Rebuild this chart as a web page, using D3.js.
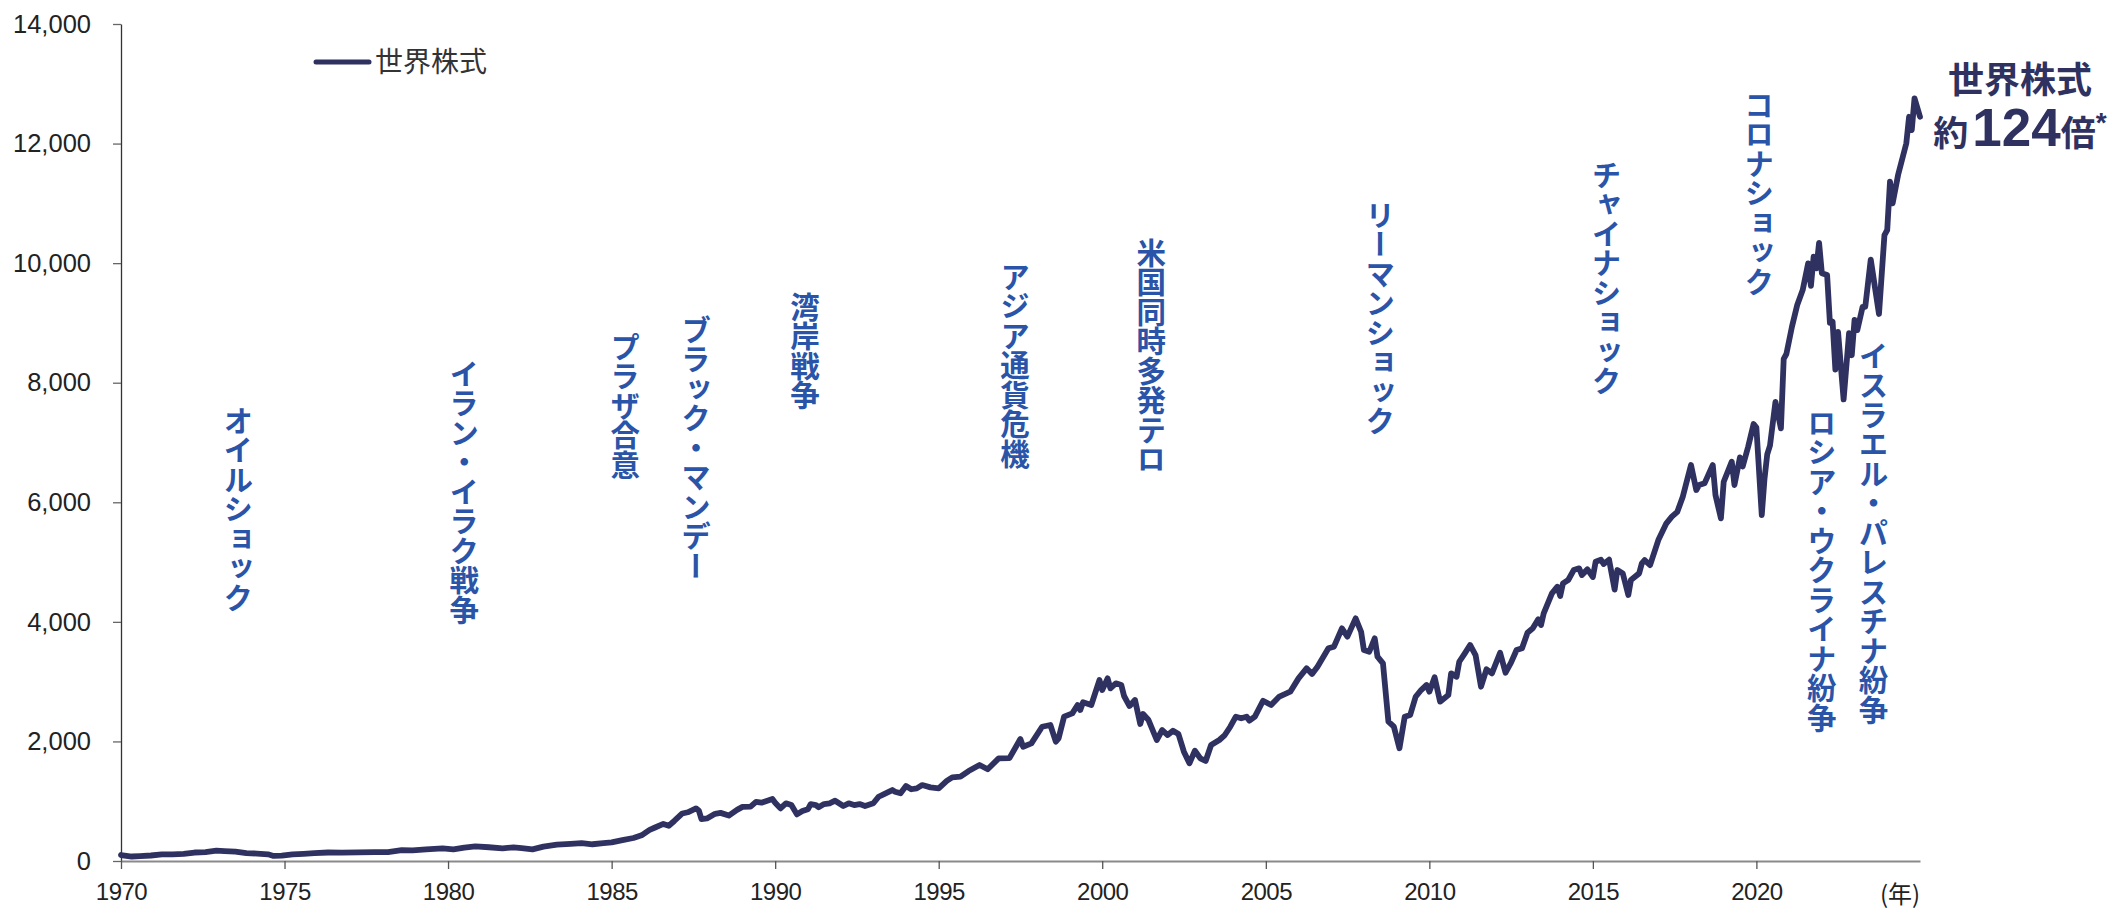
<!DOCTYPE html>
<html><head><meta charset="utf-8">
<script src="https://cdn.jsdelivr.net/npm/d3@7"></script>
<style>body{margin:0;background:#fff}svg{display:block}</style>
</head><body>
<svg id="chart" width="2112" height="910"></svg>
<script>
// ---- data ----
const seriesName = "世界株式";
const months = [
"1970-01","1970-05","1970-08","1970-12","1971-04","1971-08","1971-12","1972-04","1972-08","1972-12",
"1973-03","1973-07","1973-11","1974-03","1974-07","1974-09","1974-12","1975-04","1975-08","1975-12",
"1976-05","1976-10","1977-04","1977-10","1978-03","1978-08","1978-12","1979-05","1979-11","1980-03",
"1980-07","1980-11","1981-04","1981-09","1982-01","1982-04","1982-08","1982-12","1983-05","1983-10",
"1984-02","1984-06","1984-10","1985-01","1985-05","1985-09","1985-12","1986-03","1986-05","1986-08",
"1986-10","1986-12","1987-03","1987-05","1987-08","1987-09","1987-10","1987-12","1988-03","1988-05",
"1988-08","1988-11","1989-01","1989-04","1989-06","1989-08","1989-12","1990-01","1990-03","1990-05",
"1990-07","1990-09","1990-11","1991-01","1991-02","1991-04","1991-05","1991-07","1991-09","1991-11",
"1992-02","1992-04","1992-06","1992-08","1992-10","1993-01","1993-03","1993-05","1993-08","1993-09",
"1993-11","1994-01","1994-03","1994-05","1994-07","1994-10","1995-01","1995-04","1995-06","1995-09",
"1995-12","1996-04","1996-07","1996-11","1997-03","1997-07","1997-08","1997-11","1998-03","1998-06",
"1998-08","1998-09","1998-11","1999-02","1999-04","1999-05","1999-06","1999-09","1999-12","2000-01",
"2000-03","2000-04","2000-06","2000-08","2000-09","2000-11","2001-01","2001-03","2001-04","2001-06",
"2001-09","2001-11","2002-01","2002-03","2002-05","2002-07","2002-09","2002-11","2003-01","2003-03",
"2003-05","2003-08","2003-10","2003-12","2004-02","2004-04","2004-06","2004-07","2004-09","2004-12",
"2005-03","2005-06","2005-10","2006-01","2006-04","2006-06","2006-08","2006-12","2007-02","2007-05",
"2007-07","2007-10","2007-12","2008-01","2008-03","2008-05","2008-06","2008-08","2008-10","2008-12",
"2009-02","2009-04","2009-06","2009-08","2009-10","2009-12","2010-01","2010-03","2010-05","2010-08",
"2010-09","2010-11","2010-12","2011-02","2011-04","2011-06","2011-08","2011-10","2011-12","2012-03",
"2012-05","2012-07","2012-09","2012-11","2013-01","2013-03","2013-05","2013-06","2013-07","2013-10",
"2013-12","2014-01","2014-02","2014-04","2014-06","2014-08","2014-09","2014-11","2015-01","2015-02",
"2015-04","2015-05","2015-07","2015-09","2015-10","2015-12","2016-02","2016-03","2016-06","2016-07",
"2016-08","2016-10","2017-01","2017-04","2017-06","2017-08","2017-10","2017-11","2018-01","2018-03",
"2018-04","2018-06","2018-09","2018-10","2018-12","2019-01","2019-04","2019-05","2019-07","2019-08",
"2019-10","2019-12","2020-01","2020-03","2020-04","2020-05","2020-06","2020-08","2020-10","2020-11",
"2020-12","2021-02","2021-04","2021-06","2021-08","2021-09","2021-10","2021-11","2021-12","2022-01",
"2022-03","2022-04","2022-05","2022-06","2022-07","2022-09","2022-11","2022-12","2023-01","2023-02",
"2023-04","2023-05","2023-07","2023-10","2023-12","2024-01","2024-02","2024-03","2024-05","2024-08",
"2024-09","2024-10","2024-11","2025-01"
];
const values = [
100,75,82,92,110,112,120,142,150,172,
165,158,132,125,112,85,90,112,120,130,
142,140,145,148,150,182,178,196,212,196,
225,245,230,212,228,215,195,240,275,288,
300,280,298,312,350,385,430,520,560,620,
590,670,795,815,880,845,700,712,790,805,
760,855,905,910,990,975,1037,975,880,965,
935,780,835,865,950,935,900,952,965,1008,
920,965,935,952,920,965,1075,1120,1187,1160,
1132,1254,1200,1215,1270,1232,1215,1340,1400,1410,
1505,1605,1535,1717,1720,2040,1912,1968,2246,2275,
1996,2052,2414,2470,2609,2525,2654,2609,3027,2860,
3055,2888,2972,2944,2760,2592,2693,2291,2459,2358,
2024,2191,2107,2180,2124,1828,1634,1845,1717,1672,
1940,2024,2107,2246,2414,2386,2414,2347,2414,2680,
2609,2750,2832,3055,3223,3128,3250,3558,3585,3892,
3752,4059,3835,3529,3500,3724,3417,3306,2330,2246,
1885,2414,2442,2748,2860,2944,2832,3072,2665,2776,
3139,3083,3333,3474,3613,3445,2915,3206,3139,3484,
3150,3317,3529,3558,3819,3892,4043,3947,4143,4477,
4588,4432,4644,4700,4867,4895,4783,4878,4750,5006,
5040,4967,5040,4540,4867,4811,4449,4700,4811,4979,
5034,4950,5368,5648,5759,5840,6093,6272,6623,6205,
6289,6317,6623,6122,5731,6344,6679,6289,6750,6600,
6929,7309,7250,5787,6400,6800,6950,7680,7237,8400,
8480,8936,9299,9550,9996,9620,10108,9913,10340,9830,
9800,9000,9020,8220,8850,7720,8830,8460,9050,8880,
9270,9270,10060,9150,10470,10554,11362,11000,11473,12003,
12448,12226,12756,12448
];
const yTickValues = [0,2000,4000,6000,8000,10000,12000,14000];
const xTickYears = [1970,1975,1980,1985,1990,1995,2000,2005,2010,2015,2020];
const xUnitLabel = "(年)";
const eventLabels = ["オイルショック","イラン・イラク戦争","プラザ合意","ブラック・マンデー","湾岸戦争","アジア通貨危機","米国同時多発テロ","リーマンショック","チャイナショック","コロナショック","ロシア・ウクライナ紛争","イスラエル・パレスチナ紛争"];
const eventMonths = ["1973-08","1980-07","1985-06","1987-08","1990-12","1997-05","2001-07","2008-07","2015-06","2020-02","2022-01","2023-08"];
const endLabelLine1 = "世界株式";
const endLabelParts = ["約","124","倍","*"];

// ---- layout ----
const parse = d3.timeParse("%Y-%m");
const svg = d3.select("#chart");
const x = d3.scaleTime().domain([new Date(1970,0,1), new Date(2025,0,1)]).range([121,1920]);
const y = d3.scaleLinear().domain([0,14000]).range([861,24]);
const navy = "#2f3160";
const blue = "#2a54a8";
const numFont = "'Liberation Sans', Arial, sans-serif";
const jpFont = "'Noto Sans CJK JP', 'Noto Sans', sans-serif";

// y axis
const gy = svg.append("g").attr("transform","translate(121,0)")
  .call(d3.axisLeft(y).tickValues(yTickValues).tickFormat(d3.format(",")).tickSize(8).tickSizeOuter(0).tickPadding(22));
gy.select(".domain").attr("stroke","#333").attr("stroke-width",1.3);
gy.selectAll(".tick line").attr("stroke","#666").attr("stroke-width",1.3);
gy.selectAll(".tick text").attr("font-family",numFont).attr("font-size",25.5).attr("fill","#222");

// x axis
const gx = svg.append("g").attr("transform","translate(0,861)")
  .call(d3.axisBottom(x).tickValues(xTickYears.map(yr=>new Date(yr,0,1))).tickFormat(d3.timeFormat("%Y")).tickSize(8).tickSizeOuter(0).tickPadding(14));
gx.select(".domain").attr("stroke","#8a8a8a").attr("stroke-width",2);
gx.selectAll(".tick line").attr("stroke","#555").attr("stroke-width",1.3);
gx.selectAll(".tick text").attr("font-family",numFont).attr("font-size",24).attr("fill","#222").attr("letter-spacing","-0.5px");
svg.append("text").attr("x",1900).attr("y",903).attr("text-anchor","middle")
  .attr("font-family",jpFont).attr("font-size",24).attr("fill","#222").text(xUnitLabel);

// line
const data = months.map((m,i)=>({d:parse(m), v:values[i]}));
svg.append("path").datum(data)
  .attr("fill","none").attr("stroke",navy).attr("stroke-width",5.8)
  .attr("stroke-linejoin","round").attr("stroke-linecap","round")
  .attr("d", d3.line().x(d=>x(d.d)).y(d=>y(d.v)));

// legend
svg.append("line").attr("x1",316).attr("x2",369).attr("y1",62).attr("y2",62)
  .attr("stroke",navy).attr("stroke-width",5).attr("stroke-linecap","round");
svg.append("text").attr("x",375).attr("y",62).attr("dy","0.36em")
  .attr("font-family",jpFont).attr("font-size",28).attr("fill","#333").text(seriesName);

// event annotations (vertical text)
const eventTops = [406,359,332,315,292,262,238,200,160,90,408,341];
eventLabels.forEach((t,i)=>{
  svg.append("text")
    .attr("x", x(parse(eventMonths[i])))
    .attr("y", eventTops[i])
    .attr("font-family",jpFont).attr("font-weight",700).attr("font-size",29.5)
    .attr("fill",blue)
    .style("writing-mode","vertical-rl").style("text-orientation","mixed")
    .text(t);
});

// end label
svg.append("text").attr("x",2020).attr("y",93).attr("text-anchor","middle")
  .attr("font-family",jpFont).attr("font-weight",700).attr("font-size",36).attr("fill",navy)
  .text(endLabelLine1);
const t2 = svg.append("text").attr("x",2020).attr("y",146).attr("text-anchor","middle")
  .attr("font-weight",700).attr("fill",navy);
t2.append("tspan").attr("font-family",jpFont).attr("font-size",35).text(endLabelParts[0]);
t2.append("tspan").attr("font-family",numFont).attr("font-size",53).attr("dx",4).text(endLabelParts[1]);
t2.append("tspan").attr("font-family",jpFont).attr("font-size",35).text(endLabelParts[2]);
t2.append("tspan").attr("font-family",numFont).attr("font-size",28).attr("dy",-14).text(endLabelParts[3]);
</script>
</body></html>
